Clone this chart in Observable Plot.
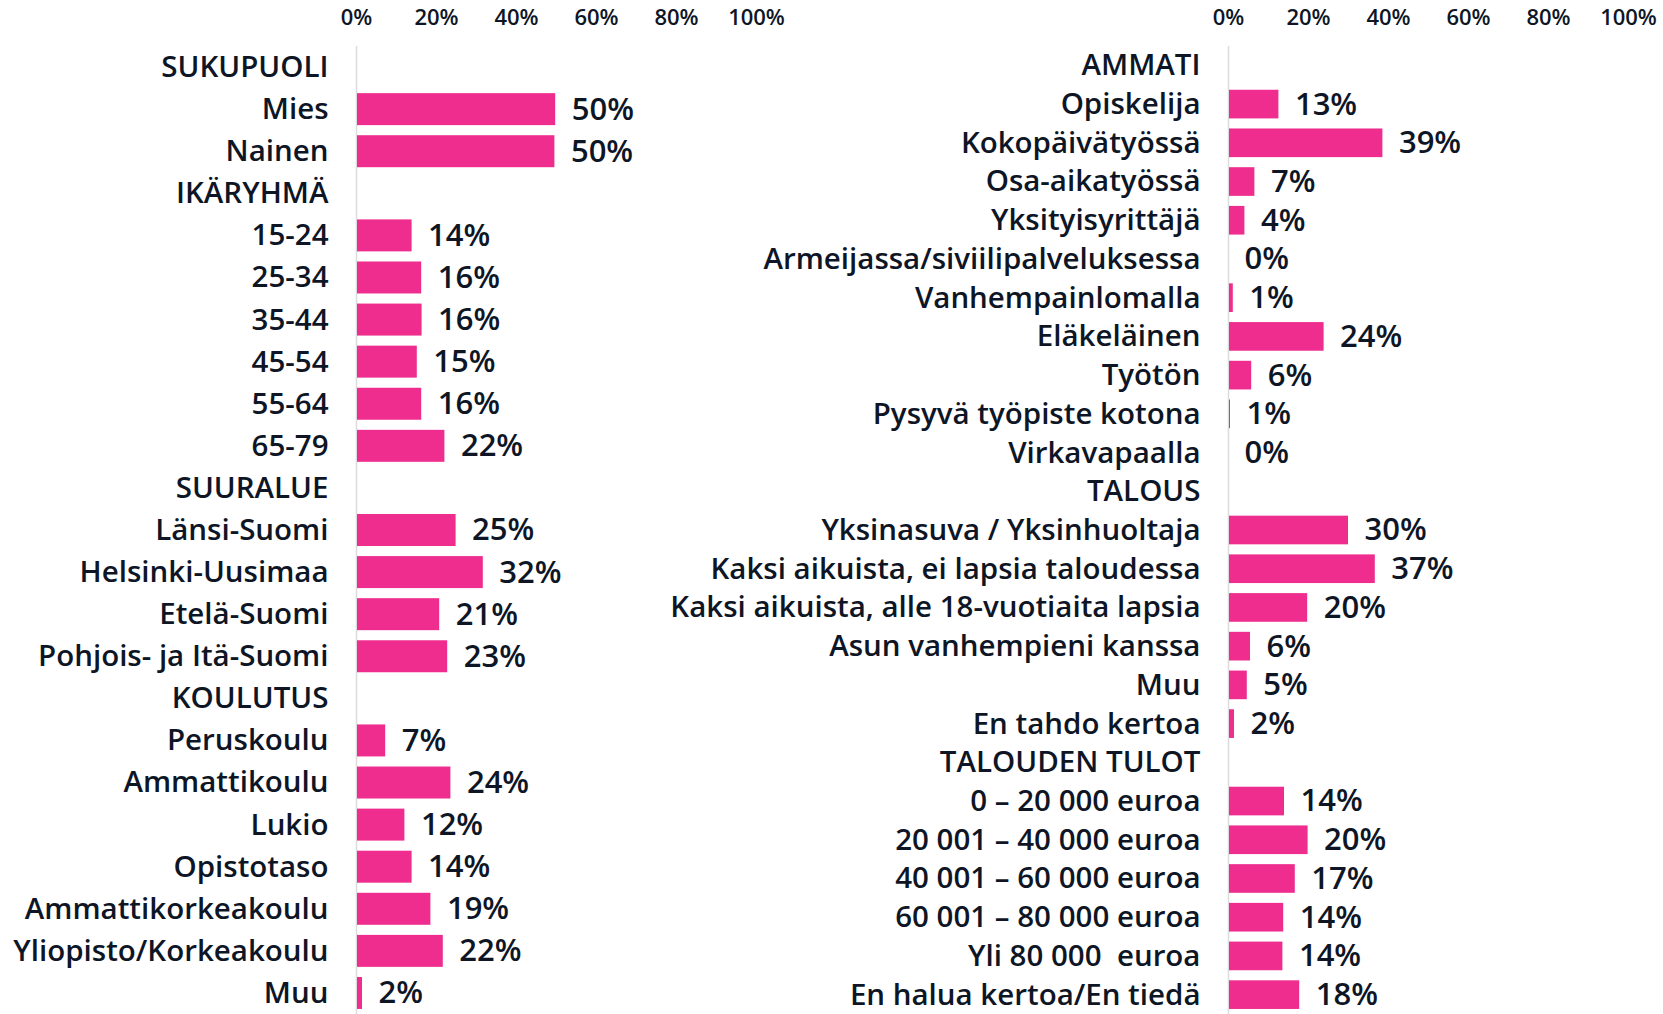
<!DOCTYPE html>
<html><head><meta charset="utf-8">
<script src="https://cdn.jsdelivr.net/npm/d3@7"></script>
<script src="https://cdn.jsdelivr.net/npm/@observablehq/plot@0.6"></script>
<style>
html,body{margin:0;padding:0;background:#fff;}
#wrap{display:flex;width:1663px;height:1014px;overflow:hidden;}
#wrap svg{flex:none;}
</style></head><body><div id="wrap"></div>
<script>
// ---- data ----
const leftCategories = [
  "SUKUPUOLI", "Mies", "Nainen",
  "IKÄRYHMÄ", "15-24", "25-34", "35-44", "45-54", "55-64", "65-79",
  "SUURALUE", "Länsi-Suomi", "Helsinki-Uusimaa", "Etelä-Suomi", "Pohjois- ja Itä-Suomi",
  "KOULUTUS", "Peruskoulu", "Ammattikoulu", "Lukio", "Opistotaso", "Ammattikorkeakoulu", "Yliopisto/Korkeakoulu", "Muu"
];
const leftValues = [
  null, 49.8, 49.6,
  null, 13.9, 16.3, 16.4, 15.2, 16.3, 22.1,
  null, 24.9, 31.7, 20.8, 22.8,
  null, 7.3, 23.6, 12.1, 13.9, 18.6, 21.7, 1.5
];
const rightCategories = [
  "AMMATI", "Opiskelija", "Kokopäivätyössä", "Osa-aikatyössä", "Yksityisyrittäjä",
  "Armeijassa/siviilipalveluksessa", "Vanhempainlomalla", "Eläkeläinen", "Työtön",
  "Pysyvä työpiste kotona", "Virkavapaalla",
  "TALOUS", "Yksinasuva / Yksinhuoltaja", "Kaksi aikuista, ei lapsia taloudessa",
  "Kaksi aikuista, alle 18-vuotiaita lapsia", "Asun vanhempieni kanssa", "Muu", "En tahdo kertoa",
  "TALOUDEN TULOT", "0 – 20 000 euroa", "20 001 – 40 000 euroa", "40 001 – 60 000 euroa",
  "60 001 – 80 000 euroa", "Yli 80 000  euroa", "En halua kertoa/En tiedä"
];
const rightValues = [
  null, 12.6, 38.6, 6.6, 4.1,
  0, 1.2, 23.9, 5.8,
  0.5, 0,
  null, 30.0, 36.7,
  19.8, 5.5, 4.7, 1.5,
  null, 14.0, 19.9, 16.7,
  13.8, 13.6, 17.8
];
const xTicks = [0, 20, 40, 60, 80, 100];

// ---- styling ----
const FONT = "'Open Sans', 'Noto Sans', sans-serif";
const PINK = "#ee2d8e";
const INK = "#0e1626";

function panel(cats, vals, opt) {
  const rows = cats.map((c, i) => ({c, v: vals[i]}));
  const valued = rows.filter(d => d.v != null);
  const bars = valued.filter(d => d.v > 0);
  return Plot.plot({
    width: opt.width,
    height: 1014,
    marginTop: 46,
    marginBottom: 0,
    marginLeft: opt.marginLeft,
    marginRight: opt.marginRight,
    style: {fontFamily: FONT, color: INK, background: "#fff", overflow: "visible"},
    x: {domain: [0, 100], axis: null},
    y: {domain: cats, paddingInner: opt.padding, paddingOuter: opt.padding / 2, round: false, axis: null},
    marks: [
      Plot.axisX(xTicks, {anchor: "top", tickSize: 0, tickPadding: 22, fontSize: 22, fontWeight: 600, label: null, tickFormat: d => d + "%"}),
      Plot.ruleX([0], {stroke: "#dcdcdc", strokeWidth: 1.5}),
      Plot.barX(bars, {x: "v", y: "c", fill: PINK, insetLeft: 1}),
      Plot.text(valued, {x: "v", y: "c", text: d => Math.round(d.v) + "%", textAnchor: "start", dx: 16, fontSize: 31, fontWeight: 600, fill: INK}),
      Plot.axisY({tickSize: 0, tickPadding: 28, fontSize: 29.5, fontWeight: 600, label: null})
    ]
  });
}

const wrap = document.getElementById("wrap");
wrap.append(panel(leftCategories, leftValues, {width: 830, marginLeft: 356, marginRight: 74, padding: 0.24}));
wrap.append(panel(rightCategories, rightValues, {width: 833, marginLeft: 398, marginRight: 35, padding: 0.26}));
</script>
</body></html>
